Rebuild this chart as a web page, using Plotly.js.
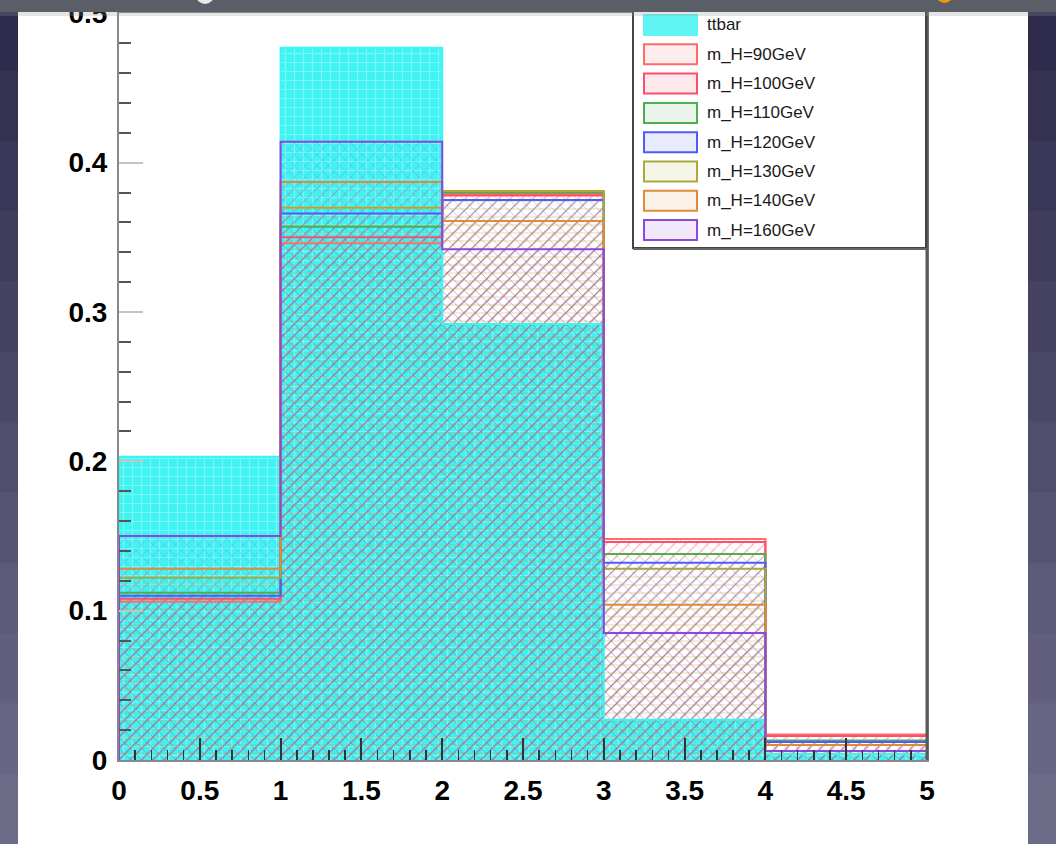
<!DOCTYPE html>
<html>
<head>
<meta charset="utf-8">
<script src="https://cdn.plot.ly/plotly-3.0.1.min.js"></script>
<style>
html,body{margin:0;padding:0;background:#3a3858;}
#chart{width:1056px;height:844px;}
</style>
</head>
<body>
<div id="chart"></div>
<script>
// ---- data ----
const binEdges   = [0, 1, 2, 3, 4, 5];
const binCenters = [0.5, 1.5, 2.5, 3.5, 4.5];

const ttbar = [0.203, 0.477, 0.292, 0.027, 0.004];
const mH90  = [0.106, 0.346, 0.379, 0.148, 0.017];
const mH100 = [0.108, 0.350, 0.378, 0.146, 0.016];
const mH110 = [0.112, 0.357, 0.380, 0.138, 0.013];
const mH120 = [0.110, 0.366, 0.375, 0.132, 0.012];
const mH130 = [0.122, 0.370, 0.381, 0.128, 0.010];
const mH140 = [0.128, 0.387, 0.361, 0.104, 0.010];
const mH160 = [0.150, 0.414, 0.342, 0.085, 0.006];

const seriesNames  = ['ttbar', 'm_H=90GeV', 'm_H=100GeV', 'm_H=110GeV', 'm_H=120GeV', 'm_H=130GeV', 'm_H=140GeV', 'm_H=160GeV'];
const seriesValues = [ttbar, mH90, mH100, mH110, mH120, mH130, mH140, mH160];
const seriesColors = ['#3ff3f3', '#ff6b6b', '#ff4d6d', '#4caf50', '#4d5bff', '#a9a940', '#e08a3c', '#8a48e0'];
const seriesHatch  = ['.', 'x', '/', 'x', '/', '-', '/', 'x'];

// ---- geometry helpers (pixel -> paper) ----
const L = 119, R = 927, T = 13, B = 760;
const W = R - L, H = B - T;
const PX = x => (x - L) / W;
const PY = y => (B - y) / H;

function hexToRgba(hex, a) {
  const n = parseInt(hex.slice(1), 16);
  return 'rgba(' + ((n >> 16) & 255) + ',' + ((n >> 8) & 255) + ',' + (n & 255) + ',' + a + ')';
}

const traces = [];
// fills
seriesValues.forEach((vals, i) => {
  if (i === 0) {
    traces.push({
      type: 'bar', x: binCenters, y: vals, width: 1, showlegend: false, hoverinfo: 'skip',
      marker: {
        color: seriesColors[i], line: {width: 0},
        pattern: {shape: '+', fgcolor: 'rgba(255,255,255,0.6)', bgcolor: seriesColors[i], size: 9, solidity: 0.25, fillmode: 'overlay'}
      }
    });
  } else {
    traces.push({
      type: 'bar', x: binCenters, y: vals, width: 1, showlegend: false, hoverinfo: 'skip',
      marker: {
        color: 'rgba(0,0,0,0)', line: {width: 0},
        pattern: {shape: seriesHatch[i], fgcolor: seriesColors[i], fgopacity: 0.35, bgcolor: 'rgba(0,0,0,0)', size: 8, solidity: 0.15, fillmode: 'replace'}
      }
    });
  }
});
// outlines (histogram steps)
seriesValues.forEach((vals, i) => {
  const xs = [binEdges[0]].concat(binEdges).concat([binEdges[binEdges.length - 1]]);
  const ys = [0].concat(vals).concat([vals[vals.length - 1], 0]);
  traces.push({
    type: 'scatter', mode: 'lines', x: xs, y: ys, showlegend: false, hoverinfo: 'skip',
    line: {shape: 'hv', color: seriesColors[i], width: 2}, cliponaxis: false
  });
});

// ---- decoration & legend shapes ----
const shapes = [];
const nb = 12;
for (let k = 0; k < nb; k++) {
  const t = k / (nb - 1);
  const c0 = [46, 43, 76], c1 = [108, 107, 136];
  const c = c0.map((v, j) => Math.round(v + (c1[j] - v) * t));
  shapes.push({type: 'rect', xref: 'paper', yref: 'paper', layer: 'below',
    x0: PX(0), x1: PX(1056), y0: PY(k * 844 / nb), y1: PY((k + 1) * 844 / nb + 1),
    fillcolor: 'rgb(' + c.join(',') + ')', line: {width: 0}});
}
shapes.push({type: 'rect', xref: 'paper', yref: 'paper', layer: 'below',
  x0: PX(18), x1: PX(1028), y0: PY(844), y1: PY(10), fillcolor: '#ffffff', line: {width: 0}});
shapes.push({type: 'line', xref: 'paper', yref: 'paper', layer: 'above',
  x0: PX(927), x1: PX(927), y0: PY(760), y1: PY(10), line: {color: '#5a5a5a', width: 3}});

// legend box
shapes.push({type: 'rect', xref: 'paper', yref: 'paper', layer: 'above',
  x0: PX(633), x1: PX(926), y0: PY(248), y1: PY(8), fillcolor: '#ffffff', line: {color: '#444', width: 2}});
shapes.push({type: 'line', xref: 'paper', yref: 'paper', layer: 'above',
  x0: PX(633), x1: PX(927), y0: PY(249), y1: PY(249), line: {color: '#666', width: 2}});

const annotations = [];
seriesNames.forEach((name, i) => {
  const yc = 25 + i * 29.3;
  shapes.push({type: 'rect', xref: 'paper', yref: 'paper', layer: 'above',
    x0: PX(644), x1: PX(697), y0: PY(yc + 10), y1: PY(yc - 10),
    fillcolor: i === 0 ? '#5ff4f4' : hexToRgba(seriesColors[i], 0.12),
    line: {color: i === 0 ? '#5ff4f4' : seriesColors[i], width: 2}});
  annotations.push({xref: 'paper', yref: 'paper', x: PX(705), y: PY(yc), xanchor: 'left', yanchor: 'middle',
    text: name, showarrow: false, font: {family: 'Liberation Sans, Arial, sans-serif', size: 17, color: '#1a1a1a'}});
});

// top dark bar of the slide
shapes.push({type: 'rect', xref: 'paper', yref: 'paper', layer: 'above',
  x0: PX(0), x1: PX(1056), y0: PY(16), y1: PY(12), fillcolor: 'rgba(150,150,150,0.25)', line: {width: 0}});
shapes.push({type: 'rect', xref: 'paper', yref: 'paper', layer: 'above',
  x0: PX(0), x1: PX(1056), y0: PY(12), y1: PY(-2), fillcolor: '#5a5e67', line: {width: 0}});
shapes.push({type: 'circle', xref: 'paper', yref: 'paper', layer: 'above',
  x0: PX(196), x1: PX(214), y0: PY(4), y1: PY(-14), fillcolor: '#e8e8e8', line: {width: 0}});
shapes.push({type: 'circle', xref: 'paper', yref: 'paper', layer: 'above',
  x0: PX(936), x1: PX(953), y0: PY(3), y1: PY(-14), fillcolor: '#f0960a', line: {width: 0}});

const tickFont = {family: 'Liberation Sans, Arial, sans-serif', size: 28, color: '#000', weight: 'bold'};

const layout = {
  width: 1056, height: 844,
  margin: {l: L, r: 1056 - R, t: T, b: 844 - B, pad: 0},
  paper_bgcolor: '#3a3858', plot_bgcolor: 'rgba(0,0,0,0)',
  barmode: 'overlay', bargap: 0, showlegend: false,
  xaxis: {
    range: [0, 5], dtick: 0.5, tick0: 0, ticks: 'inside', ticklen: 22, tickwidth: 2, tickcolor: '#333',
    minor: {dtick: 0.1, ticks: 'inside', ticklen: 10, tickwidth: 1.5, tickcolor: '#333'},
    showline: true, linecolor: '#888', linewidth: 2, mirror: true,
    showgrid: false, zeroline: false, tickfont: tickFont, ticklabelstandoff: 4, ticklabeloverflow: 'allow'
  },
  yaxis: {
    range: [0, 0.5002], dtick: 0.1, tick0: 0, ticks: 'inside', ticklen: 24, tickwidth: 2, tickcolor: '#c4c4c4',
    minor: {dtick: 0.02, ticks: 'inside', ticklen: 12, tickwidth: 2, tickcolor: '#555'},
    showline: true, linecolor: '#888', linewidth: 2, mirror: true,
    showgrid: false, zeroline: false, tickfont: tickFont, ticklabelstandoff: 4, ticklabeloverflow: 'allow'
  },
  shapes: shapes,
  annotations: annotations
};

Plotly.newPlot('chart', traces, layout, {staticPlot: true, displayModeBar: false});
</script>
</body>
</html>
